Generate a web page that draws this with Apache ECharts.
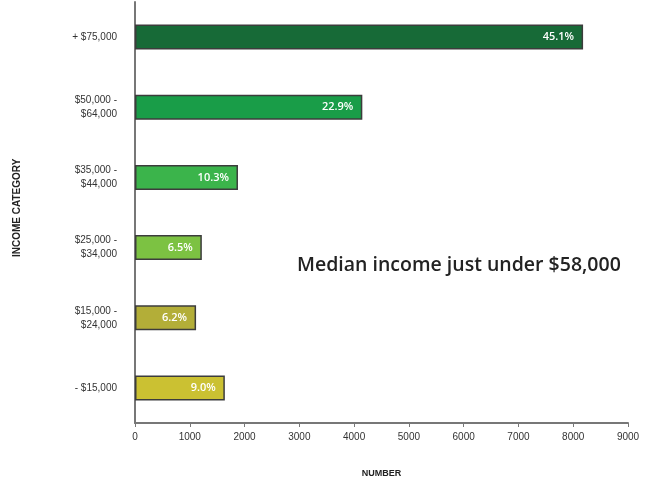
<!DOCTYPE html>
<html>
<head>
<meta charset="utf-8">
<script src="https://cdn.jsdelivr.net/npm/echarts@6/dist/echarts.min.js"></script>
<style>
  html, body { margin: 0; padding: 0; background: #fff; }
  #main { width: 652px; height: 483px; }
</style>
</head>
<body>
<div id="main"></div>
<script>
// income groups, top to bottom
const categories = ['+ $75,000', '$50,000 -\n$64,000', '$35,000 -\n$44,000', '$25,000 -\n$34,000', '$15,000 -\n$24,000', '- $15,000']
const counts = [8180, 4150, 1880, 1220, 1115, 1640]
const shares = ['45.1%', '22.9%', '10.3%', '6.5%', '6.2%', '9.0%']
const barColors = ['#176a37', '#199d48', '#3bb44b', '#7cc242', '#b3ae38', '#cbc132']
const xTicks = [0, 1000, 2000, 3000, 4000, 5000, 6000, 7000, 8000, 9000]

const chart = echarts.init(document.getElementById('main'))
const options = {
  backgroundColor: '#fff',
  animation: false,
  grid: {
    left: 135,
    right: 24,
    top: 2,
    bottom: 60
  },
  xAxis: {
    type: 'value',
    min: xTicks[0],
    max: xTicks[xTicks.length - 1],
    interval: 1000,
    name: 'NUMBER',
    nameLocation: 'middle',
    nameGap: 46,
    nameTextStyle: {
      color: '#222',
      fontSize: 9,
      fontWeight: 'bold',
      fontFamily: 'Liberation Sans'
    },
    axisLine: { show: true, lineStyle: { color: '#777', width: 2 } },
    axisTick: { show: true, length: 4, lineStyle: { color: '#777' } },
    splitLine: { show: false },
    axisLabel: {
      color: '#333',
      fontSize: 10,
      fontFamily: 'Liberation Sans',
      margin: 9,
      formatter: v => String(v)
    }
  },
  yAxis: {
    type: 'category',
    inverse: true,
    data: categories,
    axisLine: { show: true, lineStyle: { color: '#777', width: 2 } },
    axisTick: { show: false },
    axisLabel: {
      color: '#333',
      fontSize: 10,
      fontFamily: 'Liberation Sans',
      lineHeight: 14,
      margin: 18
    }
  },
  graphic: [
    {
      type: 'text',
      left: 297,
      top: 255,
      style: {
        text: 'Median income just under $58,000',
        fill: '#222',
        font: '600 19.5px "Open Sans"'
      }
    },
    {
      type: 'text',
      x: 12,
      y: 257,
      rotation: Math.PI / 2,
      style: {
        text: 'INCOME CATEGORY',
        fill: '#222',
        font: 'bold 10px "Liberation Sans"'
      }
    }
  ],
  series: [
    {
      type: 'bar',
      barWidth: 25,
      data: counts.map((v, i) => ({
        value: v,
        itemStyle: { color: barColors[i] }
      })),
      itemStyle: {
        borderColor: '#3c3c3c',
        borderWidth: 1.5
      },
      label: {
        show: true,
        position: 'insideRight',
        distance: 9,
        color: '#fff',
        fontSize: 11,
        fontWeight: 600,
        fontFamily: 'Open Sans',
        formatter: p => shares[p.dataIndex]
      }
    }
  ]
}
chart.setOption(options)
</script>
</body>
</html>
